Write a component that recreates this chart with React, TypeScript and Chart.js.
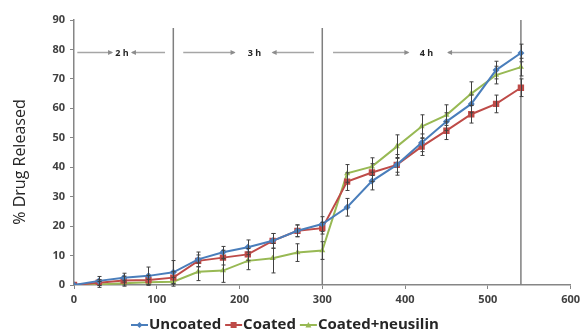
import React, { useEffect, useRef } from "react";
import { Chart, registerables } from "chart.js";

Chart.register(...registerables);

const times = [0, 30, 60, 90, 120, 150, 180, 210, 240, 270, 300, 330, 360, 390, 420, 450, 480, 510, 540];
const uncoated = [0, 1.4, 2.5, 3.1, 4.3, 8.7, 11.1, 12.8, 15, 18.4, 20.7, 26.4, 35.3, 40.8, 48.3, 55.5, 61.5, 73, 78.8];
const coated = [0, 0.8, 1.5, 1.7, 2.5, 8.2, 9.3, 10.4, 15, 18.4, 19.3, 35.1, 38.2, 40.8, 47, 52.4, 58, 61.5, 67];
const neusilin = [0, 0.2, 0.6, 0.9, 1.1, 4.5, 4.9, 8.2, 9.1, 11, 11.7, 37.9, 40.2, 47, 53.8, 57.7, 65, 71.3, 74];
const uncoatedErr = [0, 1.5, 1.5, 3, 4, 2.5, 2, 2.5, 2.5, 2, 2.5, 3, 3, 3.5, 3, 3, 3, 3, 3];
const coatedErr = [0, 1, 1.5, 1.5, 2, 2, 2.5, 2, 2.5, 2, 2, 3, 3, 2.5, 3, 3, 3, 3, 3];
const neusilinErr = [0, 1, 1, 1, 1.5, 3, 4, 3, 5, 3, 3, 3, 3, 4, 4, 3.5, 4, 3, 3];
const seriesNames = ["Uncoated", "Coated", "Coated+neusilin"];
const yTitle = "% Drug Released";
const phaseLines = [120, 300, 540];
const phaseLabels = ["2 h", "3 h", "4 h"];
const phaseLabelX = [58, 218, 426];
const arrowSegments = [
  [4, 46, 70, 110],
  [132, 194, 240, 290],
  [313, 404, 452, 529],
];
const xTicks = [0, 100, 200, 300, 400, 500, 600];
const yTicks = [0, 10, 20, 30, 40, 50, 60, 70, 80, 90];

const colors = ["#4a7ebb", "#be4b48", "#98b954"];
const FONT = "'Open Sans', 'DejaVu Sans', sans-serif";

export default function App() {
  const ref = useRef<HTMLCanvasElement>(null);
  useEffect(() => {
    document.body.style.margin = "0";
    const errs = [uncoatedErr, coatedErr, neusilinErr];
    const overlay = {
      id: "overlay",
      beforeDatasetsDraw(chart: any) {
        const { ctx, scales } = chart;
        const xs = scales.x, ys = scales.y;
        ctx.save();
        ctx.strokeStyle = "#7f7f7f";
        ctx.lineWidth = 1.5;
        phaseLines.forEach((t, i) => {
          const px = xs.getPixelForValue(t);
          ctx.beginPath();
          ctx.moveTo(px, ys.getPixelForValue(0));
          ctx.lineTo(px, ys.getPixelForValue(i === 2 ? 90 : 87.3));
          ctx.stroke();
        });
        const ay = ys.getPixelForValue(79);
        ctx.strokeStyle = "#a6a6a6";
        ctx.fillStyle = "#8c8c8c";
        ctx.lineWidth = 1.5;
        arrowSegments.forEach((seg) => {
          const [a, b, c, d] = seg.map((v) => xs.getPixelForValue(v));
          ctx.beginPath();
          ctx.moveTo(a, ay); ctx.lineTo(b, ay);
          ctx.moveTo(c, ay); ctx.lineTo(d, ay);
          ctx.stroke();
          ctx.beginPath();
          ctx.moveTo(b + 1, ay); ctx.lineTo(b - 4, ay - 2.5); ctx.lineTo(b - 4, ay + 2.5); ctx.closePath();
          ctx.fill();
          ctx.beginPath();
          ctx.moveTo(c - 1, ay); ctx.lineTo(c + 4, ay - 2.5); ctx.lineTo(c + 4, ay + 2.5); ctx.closePath();
          ctx.fill();
        });
        ctx.fillStyle = "#262626";
        ctx.font = `bold 9px ${FONT}`;
        ctx.textAlign = "center";
        ctx.textBaseline = "middle";
        phaseLabels.forEach((l, i) => {
          ctx.fillText(l, xs.getPixelForValue(phaseLabelX[i]), ay + 1);
        });
        ctx.restore();
      },
      afterDatasetsDraw(chart: any) {
        const { ctx, scales } = chart;
        const xs = scales.x, ys = scales.y;
        ctx.save();
        ctx.strokeStyle = "#404040";
        ctx.lineWidth = 1;
        [uncoated, coated, neusilin].forEach((arr, si) => {
          arr.forEach((v, i) => {
            const e = errs[si][i];
            if (!e) return;
            const px = Math.round(xs.getPixelForValue(times[i])) + 0.5;
            const y1 = ys.getPixelForValue(v - e);
            const y2 = ys.getPixelForValue(v + e);
            ctx.beginPath();
            ctx.moveTo(px, y1); ctx.lineTo(px, y2);
            ctx.moveTo(px - 2, y1); ctx.lineTo(px + 2, y1);
            ctx.moveTo(px - 2, y2); ctx.lineTo(px + 2, y2);
            ctx.stroke();
          });
        });
        ctx.restore();
      },
      afterDraw(chart: any) {
        const { ctx } = chart;
        ctx.save();
        // y-axis title
        ctx.save();
        ctx.translate(20, 162);
        ctx.rotate(-Math.PI / 2);
        ctx.font = `16px ${FONT}`;
        ctx.fillStyle = "#262626";
        ctx.textAlign = "center";
        ctx.textBaseline = "middle";
        ctx.fillText(yTitle, 0, 0);
        ctx.restore();
        // legend
        ctx.font = `bold 15px ${FONT}`;
        ctx.textBaseline = "middle";
        ctx.textAlign = "left";
        const ly = 325;
        let x = 131;
        seriesNames.forEach((name, i) => {
          ctx.strokeStyle = colors[i];
          ctx.fillStyle = colors[i];
          ctx.lineWidth = 2;
          ctx.beginPath();
          ctx.moveTo(x, ly); ctx.lineTo(x + 17, ly);
          ctx.stroke();
          const cx = x + 8.5;
          ctx.beginPath();
          if (i === 0) {
            ctx.moveTo(cx, ly - 3); ctx.lineTo(cx + 3, ly); ctx.lineTo(cx, ly + 3); ctx.lineTo(cx - 3, ly);
          } else if (i === 1) {
            ctx.rect(cx - 3, ly - 3, 6, 6);
          } else {
            ctx.moveTo(cx, ly - 3); ctx.lineTo(cx + 3, ly + 2.5); ctx.lineTo(cx - 3, ly + 2.5);
          }
          ctx.closePath();
          ctx.fill();
          ctx.fillStyle = "#262626";
          ctx.fillText(name, x + 18, ly);
          x += 18 + ctx.measureText(name).width + 4;
        });
        ctx.restore();
      },
    };
    const mk = (label: string, data: number[], i: number, style: string, r: number) => ({
      label,
      data: data.map((v, k) => ({ x: times[k], y: v })),
      borderColor: colors[i],
      backgroundColor: colors[i],
      borderWidth: 2,
      pointStyle: style,
      pointRadius: r,
      pointBorderWidth: 0,
      tension: 0,
    });
    const chart = new Chart(ref.current!, {
      type: "line",
      data: {
        datasets: [
          mk(seriesNames[0], uncoated, 0, "rectRot", 3.5),
          mk(seriesNames[1], coated, 1, "rect", 4.5),
          mk(seriesNames[2], neusilin, 2, "triangle", 3.5),
        ],
      },
      plugins: [overlay],
      options: {
        animation: false,
        responsive: false,
        layout: { padding: { top: 20, right: 12, left: 0, bottom: 0 } },
        plugins: { legend: { display: false }, tooltip: { enabled: false } },
        scales: {
          x: {
            type: "linear",
            min: 0,
            max: 600,
            afterBuildTicks: (s: any) => { s.ticks = xTicks.map((v) => ({ value: v })); },
            afterFit: (s: any) => { s.height = 51; },
            grid: { drawOnChartArea: false, drawTicks: true, tickLength: 4, color: "#868686" },
            border: { color: "#868686", width: 1.5 },
            ticks: { color: "#404040", font: { family: FONT, size: 11, weight: "bold" }, padding: 4 },
          },
          y: {
            min: 0,
            max: 90,
            afterBuildTicks: (s: any) => { s.ticks = yTicks.map((v) => ({ value: v })); },
            afterFit: (s: any) => { s.width = 74; },
            grid: { drawOnChartArea: false, drawTicks: true, tickLength: 4, color: "#868686" },
            border: { color: "#868686", width: 1.5 },
            ticks: { color: "#404040", font: { family: FONT, size: 11, weight: "bold" }, padding: 5 },
          },
        },
      } as any,
    });
    return () => chart.destroy();
  }, []);
  return (
    <div style={{ width: 584, height: 336 }}>
      <canvas ref={ref} width={584} height={336} style={{ display: "block" }} />
    </div>
  );
}
